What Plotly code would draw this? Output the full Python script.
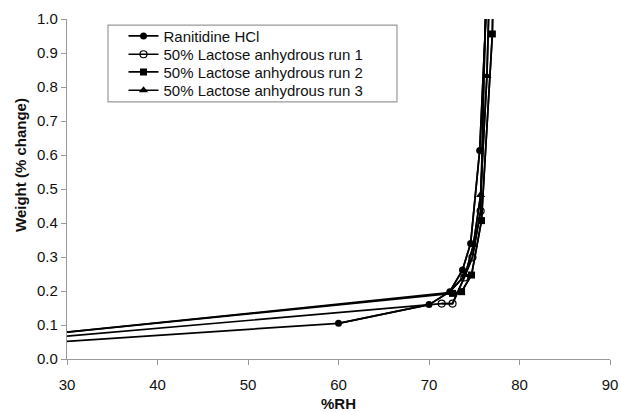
import plotly.graph_objects as go

# Data
names = ["Ranitidine HCl", "50% Lactose anhydrous run 1",
         "50% Lactose anhydrous run 2", "50% Lactose anhydrous run 3"]

rh_ranitidine = [30, 60, 70, 72.3, 73.7, 74.6, 75.6, 76.8]
wt_ranitidine = [0.052, 0.105, 0.16, 0.198, 0.262, 0.34, 0.613, 1.3]

rh_run1 = [30, 71.4, 72.6, 73.9, 74.8, 75.7, 76.8]
wt_run1 = [0.067, 0.163, 0.163, 0.24, 0.299, 0.435, 1.6]

rh_run2 = [30, 72.6, 73.6, 74.7, 75.8, 77.0, 77.2]
wt_run2 = [0.079, 0.193, 0.198, 0.247, 0.407, 0.956, 1.3]

rh_run3 = [30, 72.2, 74.0, 74.9, 75.7, 76.4, 76.9]
wt_run3 = [0.079, 0.195, 0.247, 0.335, 0.482, 0.832, 1.3]

x_ticks = [30, 40, 50, 60, 70, 80, 90]
y_ticks = [0.0, 0.1, 0.2, 0.3, 0.4, 0.5, 0.6, 0.7, 0.8, 0.9, 1.0]

FONT = "Liberation Sans, Arial, sans-serif"
TXT = "#111"

series = [
    (rh_ranitidine, wt_ranitidine, dict(symbol="circle", size=7, color="black")),
    (rh_run1, wt_run1, dict(symbol="circle-open", size=7, color="black", line=dict(width=1.2, color="black"))),
    (rh_run2, wt_run2, dict(symbol="square", size=7, color="black")),
    (rh_run3, wt_run3, dict(symbol="triangle-up", size=8, color="black")),
]

# plot area geometry (px) for placing legend rows
T, B, L, W = 19, 53, 67, 543
PH = 412 - T - B
row_centers = [36.7, 55, 72.7, 91]
legend_keys = ["legend", "legend2", "legend3", "legend4"]

fig = go.Figure()
for name, (xs, ys, mk), lk in zip(names, series, legend_keys):
    # full line (the series start at 30 %RH has no marker)
    fig.add_trace(go.Scatter(
        x=xs, y=ys, mode="lines", showlegend=False, hoverinfo="skip",
        line=dict(color="black", width=1.7),
    ))
    # marked points
    fig.add_trace(go.Scatter(
        x=xs[1:], y=ys[1:], name=name, mode="lines+markers",
        line=dict(color="black", width=1.7),
        marker=mk, legend=lk,
    ))

legend_layout = {}
for lk, yc in zip(legend_keys, row_centers):
    top_px = yc - 17 - T
    legend_layout[lk] = dict(
        x=(123.5 - L) / W, y=1 - top_px / PH, xanchor="left", yanchor="top",
        bgcolor="rgba(0,0,0,0)", borderwidth=0,
        font=dict(family=FONT, size=15, color=TXT),
    )

fig.update_layout(
    width=620, height=412,
    margin=dict(l=L, r=10, t=T, b=B),
    paper_bgcolor="white", plot_bgcolor="white",
    font=dict(family=FONT, size=15, color=TXT),
    showlegend=True,
    shapes=[dict(type="rect", xref="paper", yref="paper",
                 x0=0.0755, x1=0.6077, y0=0.756, y1=0.982,
                 line=dict(color="#999", width=1.2))],
    annotations=[dict(text="<b>Weight (% change)</b>", xref="paper", yref="paper",
                      x=-0.087, y=0.57, textangle=-90, showarrow=False,
                      xanchor="center", yanchor="middle",
                      font=dict(family=FONT, size=15, color=TXT))],
    **legend_layout,
)

fig.update_xaxes(
    range=[30, 90], tickvals=x_ticks, ticktext=[str(v) for v in x_ticks],
    showgrid=False, zeroline=False, showline=True, linecolor="#999", linewidth=1.2,
    ticks="outside", ticklen=5, tickcolor="#999", ticklabelstandoff=7,
    automargin=False,
    title=dict(text="<b>%RH</b>", font=dict(family=FONT, size=15, color=TXT), standoff=8),
    tickfont=dict(family=FONT, size=15, color=TXT),
)
fig.update_yaxes(
    range=[0, 1.0], tickvals=y_ticks, ticktext=[f"{v:.1f}" for v in y_ticks],
    showgrid=False, zeroline=False, showline=True, linecolor="#999", linewidth=1.2,
    ticks="outside", ticklen=5, tickcolor="#999", automargin=False,
    tickfont=dict(family=FONT, size=15, color=TXT),
)

fig.write_html("out.html")
